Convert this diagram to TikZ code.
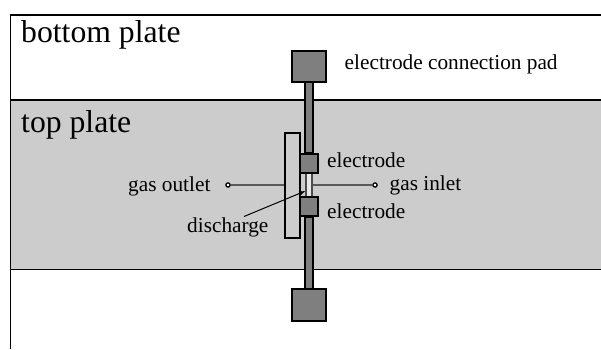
\documentclass[tikz,border=0pt]{standalone}
\usepackage{fontspec}
\setmainfont{Liberation Serif}
\usetikzlibrary{arrows.meta}
\definecolor{plate}{HTML}{CCCCCC}
\definecolor{metal}{HTML}{7F7F7F}
\tikzset{
  x=1pt,y=-1pt,
  box/.style={draw=black,line width=1.6pt,fill=metal,inner sep=0pt},
  strip/.style={draw=black,line width=1.6pt,fill=metal,inner sep=0pt,minimum width=8pt,minimum height=72pt},
  big/.style={anchor=base west,inner sep=0pt,font=\fontsize{31.7pt}{33pt}\selectfont},
  small/.style={anchor=base west,inner sep=0pt,font=\fontsize{21.3pt}{23pt}\selectfont},
  dot/.style={circle,draw=black,fill=white,line width=1.3pt,minimum size=4.2pt,inner sep=0pt},
  thin line/.style={draw=black!65,line width=1.4pt},
  frame line/.style={draw=black,line width=1.7pt},
}
\begin{document}
\begin{tikzpicture}
\useasboundingbox (0,0) rectangle (601,349);
\fill[white] (0,0) rectangle (601,349);
\fill[plate] (10.5,100) rectangle (601,269);
\draw[frame line] (601,15) -- (10.5,15) -- (10.5,349);
\draw[frame line] (10.5,100) -- (601,100);
\draw[frame line] (10.5,269.5) -- (601,269.5);
% gas channel
\node[frame line,fill=plate,inner sep=0pt,minimum width=15.5pt,minimum height=105pt] (channel) at (292.5,185.5) {};
% strips
\node[strip] (stripa) at (309,117) {};
\node[strip] (stripb) at (309,253) {};
% discharge
\node[draw=black!70,line width=1.3pt,fill=white!55!plate,inner sep=0pt,minimum width=6pt,minimum height=26pt] (discharge) at (309,185) {};
% pads and electrodes
\node[box,minimum width=33.5pt,minimum height=31pt] (padt) at (309,66.5) {};
\node[box,minimum width=33.5pt,minimum height=32pt] (padb) at (309,305) {};
\node[box,minimum width=18pt,minimum height=19pt] (elt) at (309,163.5) {};
\node[box,minimum width=18pt,minimum height=19pt] (elb) at (309,206.5) {};
% labels
\node[big] (bp) at (21,42) {bottom plate};
\node[big] (tp) at (21,132) {top plate};
\node[small] (pad) at (344.5,69) {electrode connection pad};
\node[small] (e1) at (327,167.5) {electrode};
\node[small] (e2) at (327,218.5) {electrode};
\node[small] (go) at (128,191) {gas outlet};
\node[small] (gi) at (389.5,190) {gas inlet};
\node[small] (dl) at (187,232) {discharge};
% connectors
\node[dot] (d1) at (228,185) {};
\node[dot] (d2) at (375,185) {};
\draw[thin line] (d1) -- (channel.west |- d1);
\draw[thin line] (discharge.east |- d2) -- (d2);
\coordinate (ds) at (244,216.5);
\draw[black,line width=1pt,-{Latex[length=6pt,width=5pt]}] (ds) -- (discharge.west |- 0,191);
\end{tikzpicture}
\end{document}
